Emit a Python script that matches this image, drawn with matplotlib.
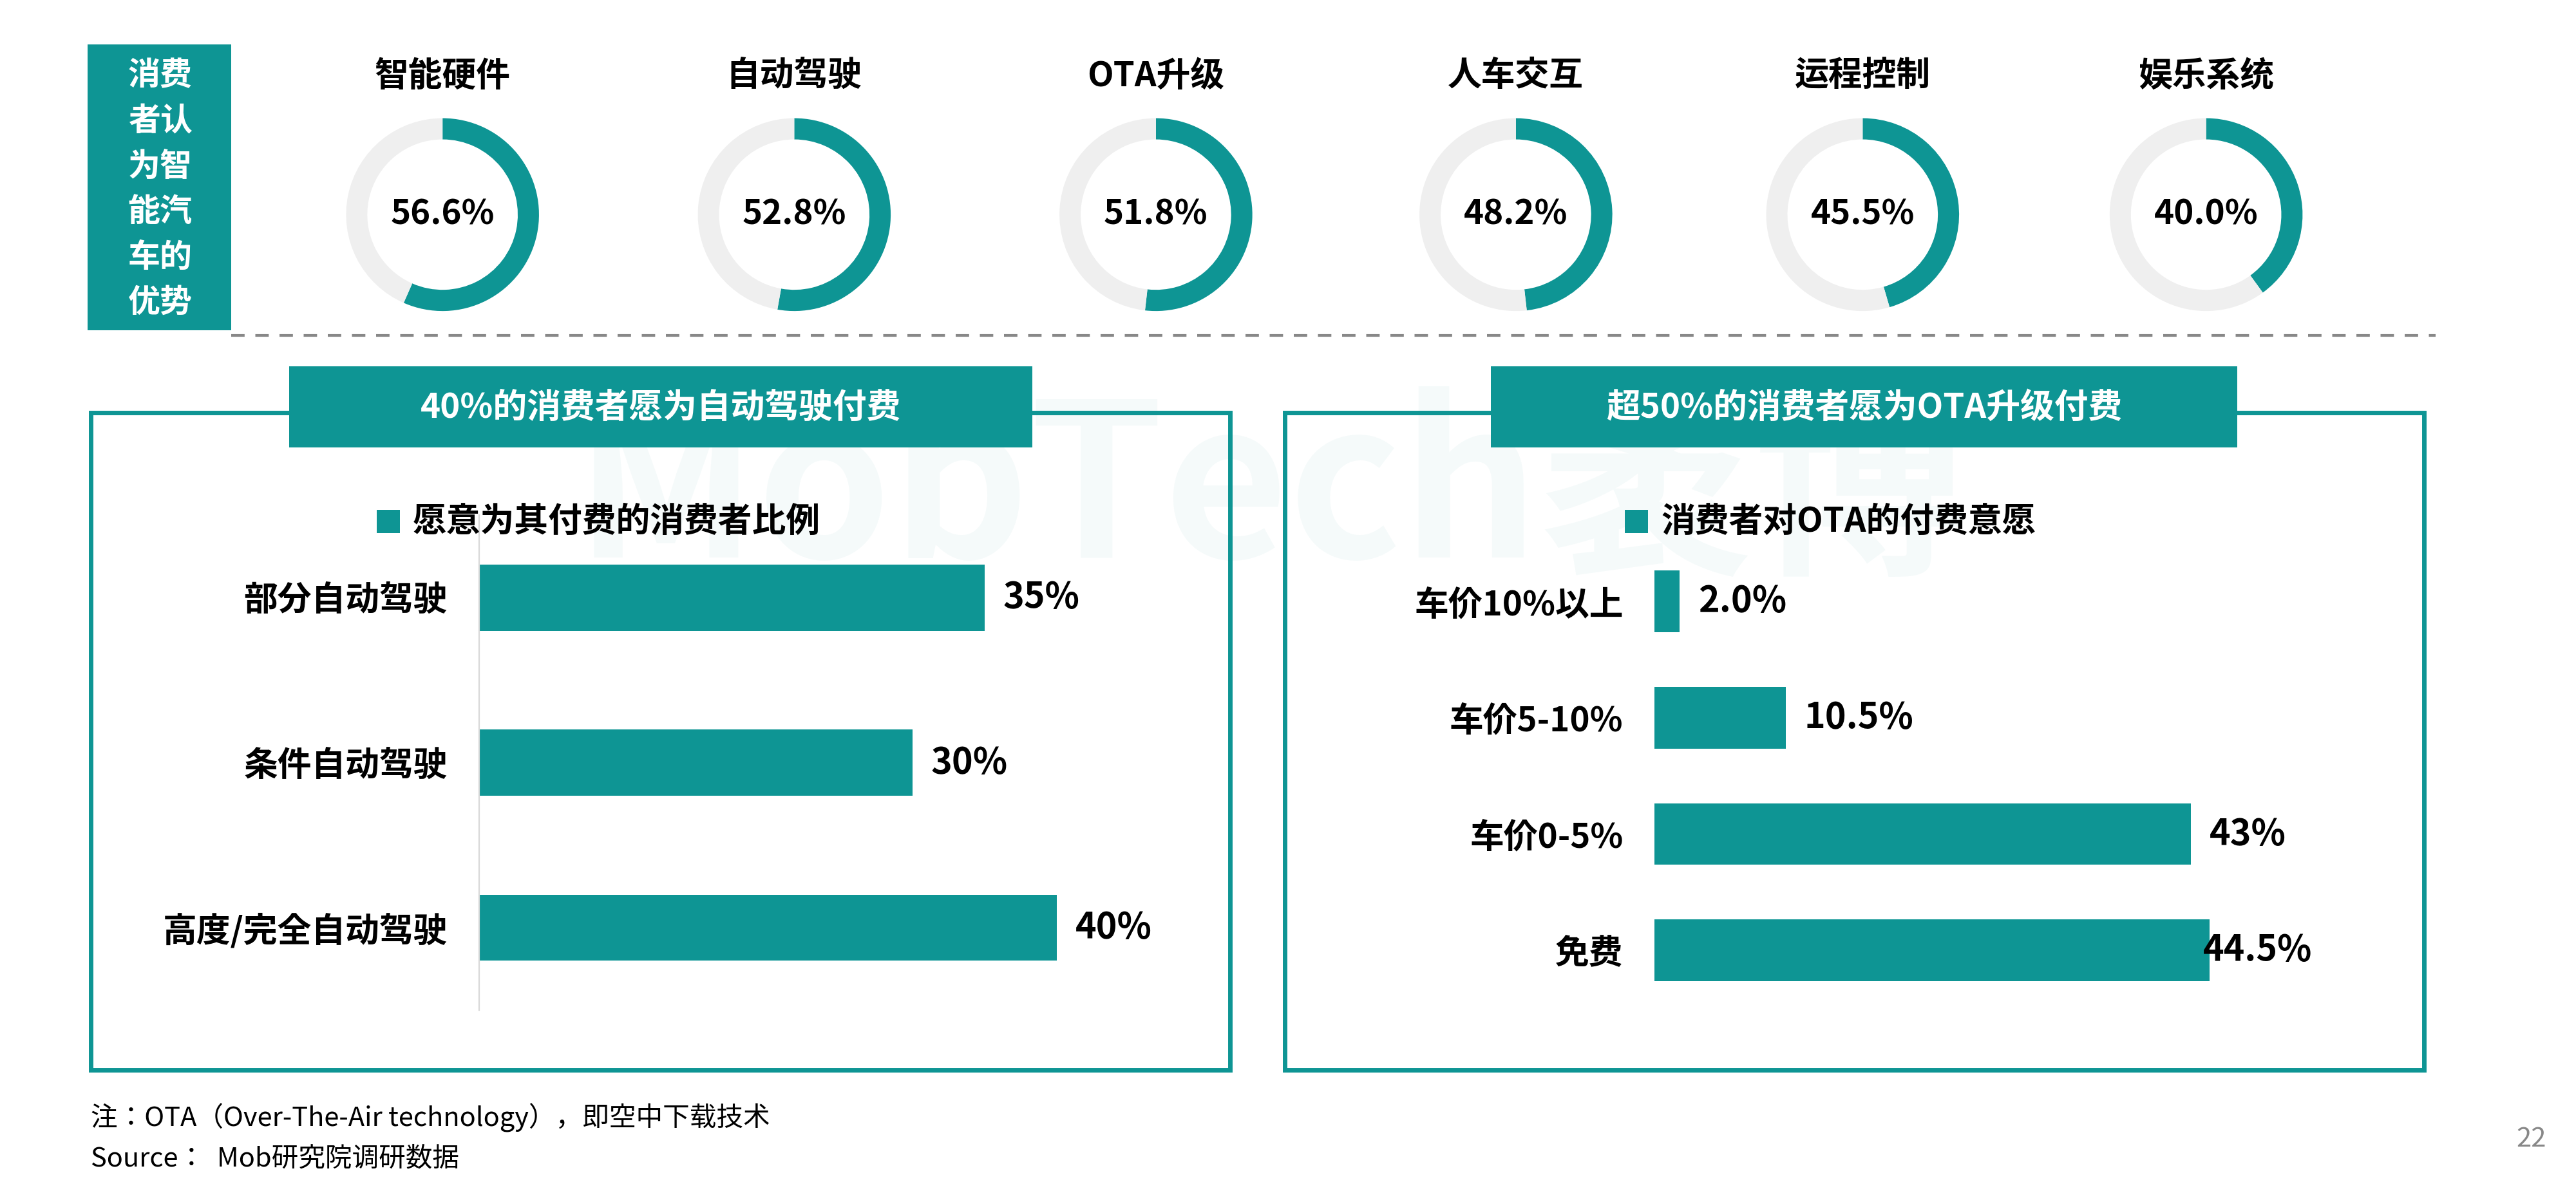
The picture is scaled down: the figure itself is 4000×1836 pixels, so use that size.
import matplotlib.pyplot as plt
from matplotlib import font_manager
from matplotlib.patches import Rectangle

cjk = sorted({f.name for f in font_manager.fontManager.ttflist if 'CJK' in f.name})
cjk_name = next((n for n in cjk if n.endswith('SC')), cjk[0] if cjk else 'DejaVu Sans')
plt.rcParams['font.family'] = [cjk_name, 'DejaVu Sans']

TEAL = '#0e9594'
W, H = 1560, 716

donut_names = ['智能硬件', '自动驾驶', 'OTA升级', '人车交互', '运程控制', '娱乐系统']
donut_vals = [56.6, 52.8, 51.8, 48.2, 45.5, 40.0]
donut_x = [268, 481, 700, 918, 1128, 1336]

left_cats = ['部分自动驾驶', '条件自动驾驶', '高度/完全自动驾驶']
left_vals = [35, 30, 40]

right_cats = ['车价10%以上', '车价5-10%', '车价0-5%', '免费']
right_vals = [2.0, 10.5, 43, 44.5]
right_labels = ['2.0%', '10.5%', '43%', '44.5%']

fig = plt.figure(figsize=(20, 9.18), dpi=200)


def fx(x):
    return x / W


def fy(y):
    return 1 - y / H


def rect(x0, y0, x1, y1, **kw):
    fig.patches.append(Rectangle((fx(x0), fy(y1)), fx(x1) - fx(x0), fy(y0) - fy(y1),
                                 transform=fig.transFigure, **kw))


def text(x, y, s, **kw):
    fig.text(fx(x), fy(y), s, **kw)


# watermark
text(770, 300, 'MobTech袤博', fontsize=120, fontweight='bold', color='#0e9594',
     alpha=0.04, ha='center', va='center', style='italic')

# left side box
rect(53, 27, 140, 200, facecolor=TEAL, edgecolor='none')
for i, line in enumerate(['消费', '者认', '为智', '能汽', '车的', '优势']):
    text(97, 46 + i * 27.5, line, fontsize=18, fontweight='bold', color='white',
         ha='center', va='center')

# donuts
for name, v, cx in zip(donut_names, donut_vals, donut_x):
    ax = fig.add_axes([fx(cx - 66), fy(130 + 66), 132 / W, 132 / H])
    ax.pie([v, 100 - v], colors=[TEAL, '#efefef'], startangle=90, counterclock=False,
           radius=1, wedgeprops=dict(width=0.22, edgecolor='none'))
    ax.set_xlim(-1.13, 1.13)
    ax.set_ylim(-1.13, 1.13)
    ax.set_aspect('equal')
    ax.axis('off')
    ax.text(0, 0, f'{v:.1f}%', fontsize=19, fontweight='bold', ha='center', va='center')
    text(cx, 46, name, fontsize=19, fontweight='bold', ha='center', va='center')

fig.add_artist(plt.Line2D([fx(140), fx(1475)], [fy(203), fy(203)], transform=fig.transFigure,
                          color='#888888', lw=1.5, ls=(0, (5, 4))))

# panels
for x0, x1, tx0, tx1, title in [(55, 745, 175, 625, '40%的消费者愿为自动驾驶付费'),
                                (778, 1468, 903, 1355, '超50%的消费者愿为OTA升级付费')]:
    rect(x0, 250, x1, 648, facecolor='none', edgecolor=TEAL, lw=2.5)
    rect(tx0, 222, tx1, 271, facecolor=TEAL, edgecolor='none')
    text((tx0 + tx1) / 2, 247, title, fontsize=19, fontweight='bold', color='white',
         ha='center', va='center')

rect(228, 309, 242, 323, facecolor=TEAL, edgecolor='none')
text(250, 316, '愿意为其付费的消费者比例', fontsize=19, fontweight='bold', va='center')
rect(984, 309, 998, 323, facecolor=TEAL, edgecolor='none')
text(1006, 316, '消费者对OTA的付费意愿', fontsize=19, fontweight='bold', va='center')

# left bars
ax = fig.add_axes([fx(290), fy(612), 437.5 / W, 300 / H])
ax.barh(range(3), left_vals, height=0.4, color=TEAL)
for i, v in enumerate(left_vals):
    ax.text(v + 1.3, i, f'{v}%', fontsize=20, fontweight='bold', va='center')
ax.set_xlim(0, 50)
ax.set_ylim(2.5, -0.5)
ax.set_yticks(range(3))
ax.set_yticklabels(left_cats, fontsize=19, fontweight='bold')
ax.tick_params(left=False, bottom=False, labelbottom=False, pad=14)
for s in ['top', 'right', 'bottom']:
    ax.spines[s].set_visible(False)
ax.spines['left'].set_color('#d9d9d9')
ax.patch.set_alpha(0)

# right bars
ax = fig.add_axes([fx(1002), fy(611), 458 / W, 282 / H])
ax.barh(range(4), right_vals, height=0.53, color=TEAL)
for i, (v, lab) in enumerate(zip(right_vals, right_labels)):
    ax.text(v + 1.5 if i < 3 else v - 0.5, i, lab, fontsize=20, fontweight='bold', va='center')
ax.set_xlim(0, 458 / 7.55)
ax.set_ylim(3.5, -0.5)
ax.set_yticks(range(4))
ax.set_yticklabels(right_cats, fontsize=19, fontweight='bold')
ax.tick_params(left=False, bottom=False, labelbottom=False, pad=14)
for s in ax.spines.values():
    s.set_visible(False)
ax.patch.set_alpha(0)

text(55, 677, '注：OTA（Over-The-Air technology），即空中下载技术', fontsize=15, va='center')
text(55, 702, 'Source：  Mob研究院调研数据', fontsize=15, va='center')
text(1533, 690, '22', fontsize=15, color='#888888', ha='center', va='center')

fig.savefig('out.png', dpi=200)
